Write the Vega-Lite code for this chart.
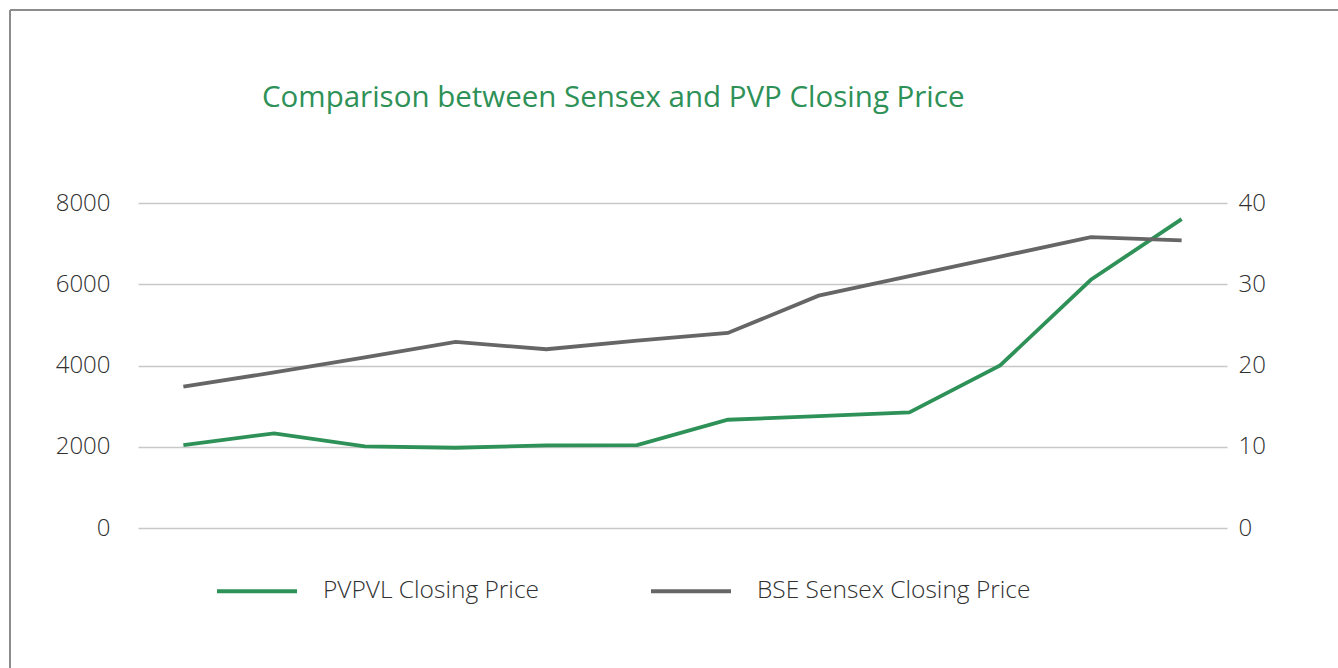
{
  "$schema": "https://vega.github.io/schema/vega-lite/v6.json",
  "autosize": {"type": "none"},
  "padding": {"left": 10, "top": 10, "right": 0, "bottom": 0},
  "width": 1328,
  "height": 658,
  "background": "#ffffff",
  "config": {
    "view": {"stroke": "#8c8c8c", "strokeWidth": 2, "strokeDash": [1328, 1986, 658, 0]},
    "font": "Open Sans",
    "axis": {
      "domain": false,
      "ticks": false,
      "labelFont": "Open Sans",
      "labelFontWeight": 300,
      "labelFontSize": 24,
      "labelColor": "#303030",
      "labelPadding": 0,
      "title": null,
      "gridColor": "#c8c8c8",
      "gridWidth": 1.5
    },
    "legend": {
      "labelFont": "Open Sans",
      "labelFontWeight": 300,
      "labelFontSize": 24.5,
      "labelColor": "#303030",
      "labelLimit": 500
    }
  },
  "title": {
    "text": "Comparison between Sensex and PVP Closing Price",
    "anchor": "start",
    "frame": "group",
    "orient": "top",
    "baseline": "alphabetic",
    "offset": -126,
    "dx": 252,
    "font": "Open Sans",
    "fontSize": 29.5,
    "fontWeight": 400,
    "color": "#2e9157"
  },
  "data": {
    "values": [
      {"t": "P01", "pvpvl": 2040, "sensex": 17.4},
      {"t": "P02", "pvpvl": 2330, "sensex": 19.15},
      {"t": "P03", "pvpvl": 2010, "sensex": 21.0},
      {"t": "P04", "pvpvl": 1975, "sensex": 22.9},
      {"t": "P05", "pvpvl": 2035, "sensex": 22.0},
      {"t": "P06", "pvpvl": 2040, "sensex": 23.05},
      {"t": "P07", "pvpvl": 2665, "sensex": 24.0},
      {"t": "P08", "pvpvl": 2755, "sensex": 28.6},
      {"t": "P09", "pvpvl": 2845, "sensex": 31.0},
      {"t": "P10", "pvpvl": 4000, "sensex": 33.4},
      {"t": "P11", "pvpvl": 6110, "sensex": 35.8},
      {"t": "P12", "pvpvl": 7605, "sensex": 35.4}
    ]
  },
  "encoding": {
    "x": {
      "field": "t",
      "type": "ordinal",
      "sort": null,
      "axis": null,
      "scale": {"type": "point", "padding": 0.5, "range": [128, 1217]}
    }
  },
  "layer": [
    {
      "mark": {"type": "line", "strokeWidth": 3.8, "strokeCap": "butt", "strokeJoin": "miter"},
      "encoding": {
        "y": {
          "field": "pvpvl",
          "type": "quantitative",
          "scale": {"domain": [0, 8000], "nice": false, "range": [518, 193]},
          "axis": {"orient": "left", "offset": -100, "values": [0, 2000, 4000, 6000, 8000], "grid": true, "format": "d"}
        },
        "color": {
          "datum": "PVPVL Closing Price",
          "scale": {"domain": ["PVPVL Closing Price", "BSE Sensex Closing Price"], "range": ["#2e9157", "#666666"]},
          "legend": {
            "title": null,
            "orient": "none",
            "legendX": 205,
            "legendY": 539,
            "direction": "horizontal",
            "symbolType": "stroke",
            "symbolSize": 6400,
            "symbolStrokeWidth": 4,
            "labelOffset": 24,
            "columnPadding": 104,
            "padding": 0
          }
        }
      }
    },
    {
      "mark": {"type": "line", "strokeWidth": 3.8, "strokeCap": "butt", "strokeJoin": "miter"},
      "encoding": {
        "y": {
          "field": "sensex",
          "type": "quantitative",
          "scale": {"domain": [0, 40], "nice": false, "range": [518, 193]},
          "axis": {"orient": "right", "offset": -100, "values": [0, 10, 20, 30, 40], "grid": false, "format": "d"}
        },
        "color": {"datum": "BSE Sensex Closing Price"}
      }
    }
  ],
  "resolve": {"scale": {"y": "independent"}}
}
